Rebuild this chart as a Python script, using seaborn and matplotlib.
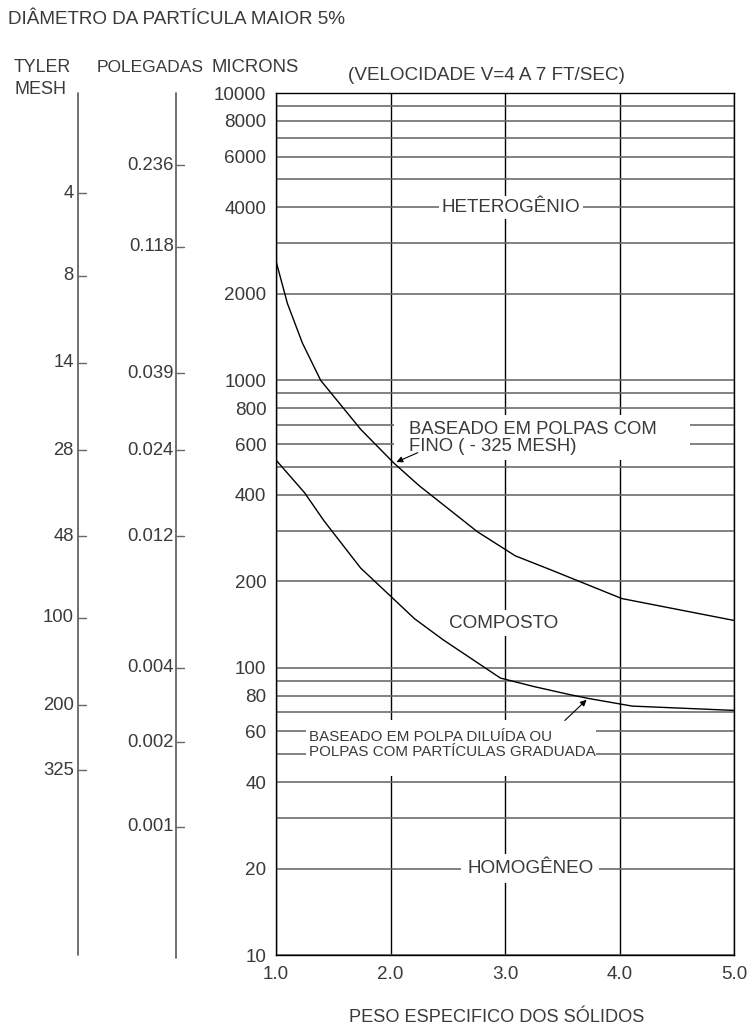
import matplotlib
matplotlib.use("Agg")
import matplotlib.pyplot as plt
from matplotlib.patches import Rectangle
import numpy as np
import pandas as pd
import seaborn as sns

# ---------------- data ----------------
# curve: BASEADO EM POLPAS COM FINO (-325 MESH)
sg_fino = [1.0, 1.10, 1.23, 1.39, 1.74, 2.03, 2.25, 2.76, 3.09, 3.40, 4.02, 5.0]
um_fino = [2600, 1850, 1350, 1000, 675, 515, 430, 297, 245, 219, 174, 146]
# curve: BASEADO EM POLPA DILUIDA OU POLPAS COM PARTICULAS GRADUADA
sg_dil = [1.0, 1.25, 1.42, 1.74, 1.99, 2.21, 2.46, 2.96, 3.25, 3.57, 3.74, 4.11, 5.0]
um_dil = [528, 406, 324, 222, 179, 148, 125, 92, 86, 80.5, 78, 73.5, 71]

x_ticks = [1.0, 2.0, 3.0, 4.0, 5.0]
x_ticklabels = ["1.0", "2.0", "3.0", "4.0", "5.0"]
y_labeled = [10, 20, 40, 60, 80, 100, 200, 400, 600, 800,
             1000, 2000, 4000, 6000, 8000, 10000]
y_gridlines = [10, 20, 30, 40, 50, 60, 70, 80, 90,
               100, 200, 300, 400, 500, 600, 700, 800, 900,
               1000, 2000, 3000, 4000, 5000, 6000, 7000, 8000, 9000, 10000]

mesh_labels = ["4", "8", "14", "28", "48", "100", "200", "325"]
mesh_microns = [4480, 2310, 1150, 570, 287, 149, 74, 44]
inch_labels = ["0.236", "0.118", "0.039", "0.024", "0.012", "0.004", "0.002", "0.001"]
inch_microns = [5600, 2920, 1060, 570, 287, 100, 55, 28]

# ---------------- style ----------------
sns.set_style("white")
plt.rcParams["font.family"] = ["Liberation Sans", "DejaVu Sans"]
TXT = "#3a3a3a"
FS = 13.6
GRID_GRAY = "#666666"

W, H = 747, 1028
fig = plt.figure(figsize=(W / 100, H / 100), dpi=100)
L, R, T, B = 276, 734, 93, 955
ax = fig.add_axes([L / W, 1 - B / H, (R - L) / W, (B - T) / H])

df_fino = pd.DataFrame({"sg": sg_fino, "um": um_fino})
df_dil = pd.DataFrame({"sg": sg_dil, "um": um_dil})
sns.lineplot(data=df_fino, x="sg", y="um", ax=ax, color="black", lw=1.0,
             sort=False, zorder=2)
sns.lineplot(data=df_dil, x="sg", y="um", ax=ax, color="black", lw=1.0,
             sort=False, zorder=2)

ax.set_yscale("log")
ax.set_xlim(1.0, 5.0)
ax.set_ylim(10, 10000)
ax.set_xticks(x_ticks)
ax.set_xticklabels(x_ticklabels)
ax.set_yticks(y_labeled)
ax.set_yticklabels([str(v) for v in y_labeled])
ax.set_yticks([v for v in y_gridlines if v not in y_labeled], minor=True)
ax.tick_params(axis="y", which="minor", length=0, labelleft=False)
ax.tick_params(axis="y", which="major", length=2, width=0.8, color=GRID_GRAY,
               pad=5, labelsize=FS, labelcolor=TXT)
ax.tick_params(axis="x", which="major", length=0, pad=8, labelsize=FS,
               labelcolor=TXT)
ax.set_xlabel("")
ax.set_ylabel("")

ax.set_axisbelow(True)
ax.grid(True, axis="y", which="both", color=GRID_GRAY, lw=1.15, zorder=0.5)
ax.grid(True, axis="x", which="major", color="black", lw=1.0, zorder=0.5)
for s in ax.spines.values():
    s.set_color("black")
    s.set_linewidth(1.0)

# ---------------- region labels ----------------
box = dict(boxstyle="square,pad=0.15", fc="white", ec="none")
ax.text(3.05, 4000, "HETEROGÊNIO", ha="center", va="center", fontsize=FS,
        color=TXT, bbox=box, zorder=4)
ax.text(2.99, 143, "COMPOSTO", ha="center", va="center", fontsize=FS,
        color=TXT, bbox=dict(boxstyle="square,pad=0.25", fc="white", ec="none"),
        zorder=4)
ax.text(3.22, 20, "HOMOGÊNEO", ha="center", va="center", fontsize=FS,
        color=TXT, bbox=dict(boxstyle="square,pad=0.3", fc="white", ec="none"),
        zorder=4)

ax.add_patch(Rectangle((2.03, 528), 4.62 - 2.03, 757 - 528, fc="white",
                       ec="none", zorder=3))
ax.text(2.16, 630, "BASEADO EM POLPAS COM\nFINO ( - 325 MESH)", ha="left",
        va="center", fontsize=13.3, color=TXT, linespacing=0.95, zorder=4)
ax.annotate("", xy=(2.03, 515), xytext=(2.26, 565),
            arrowprops=dict(arrowstyle="-|>", color="black", lw=0.8,
                            mutation_scale=9), zorder=5)

ax.add_patch(Rectangle((1.262, 42.0), 3.795 - 1.262, 65.5 - 42.0, fc="white",
                       ec="none", zorder=3))
ax.text(1.29, 54, "BASEADO EM POLPA DILUÍDA OU\nPOLPAS COM PARTÍCULAS GRADUADA",
        ha="left", va="center", fontsize=10.9, color=TXT, linespacing=1.15,
        zorder=4)
ax.annotate("", xy=(3.73, 78.5), xytext=(3.505, 64.5),
            arrowprops=dict(arrowstyle="-|>", color="black", lw=0.8,
                            mutation_scale=9), zorder=5)

# ---------------- left auxiliary scales ----------------
tr = ax.get_yaxis_transform()
x_mesh = (78 - L) / (R - L)
x_inch = (176 - L) / (R - L)
tick_len = 8 / (R - L)
scale_col = "#666666"
ax.plot([x_mesh, x_mesh], [10, 10000], transform=tr, color=scale_col, lw=1.3,
        clip_on=False)
ax.plot([x_inch, x_inch], [9.8, 10000], transform=tr, color=scale_col, lw=1.3,
        clip_on=False)
for lab, v in zip(mesh_labels, mesh_microns):
    ax.plot([x_mesh, x_mesh + tick_len], [v, v], transform=tr, color=scale_col,
            lw=1.0, clip_on=False)
    ax.text(x_mesh - 4 / (R - L), v, lab, transform=tr, ha="right",
            va="center", fontsize=13.3, color=TXT, clip_on=False)
for lab, v in zip(inch_labels, inch_microns):
    ax.plot([x_inch, x_inch + tick_len], [v, v], transform=tr, color=scale_col,
            lw=1.0, clip_on=False)
    ax.text(x_inch - 2 / (R - L), v, lab, transform=tr, ha="right",
            va="center", fontsize=13.3, color=TXT, clip_on=False)

# ---------------- headings ----------------
fig.text(8 / W, 1 - 20 / H, "DIÂMETRO DA PARTÍCULA MAIOR 5%", ha="left",
         va="center", fontsize=FS, color=TXT)
fig.text(14 / W, 1 - 67 / H, "TYLER", ha="left", va="center", fontsize=12.8,
         color=TXT)
fig.text(14 / W, 1 - 89 / H, "MESH", ha="left", va="center", fontsize=13,
         color=TXT)
fig.text(97 / W, 1 - 67 / H, "POLEGADAS", ha="left", va="center",
         fontsize=12.5, color=TXT)
fig.text(212 / W, 1 - 67 / H, "MICRONS", ha="left", va="center", fontsize=13.3,
         color=TXT)
fig.text(348 / W, 1 - 75 / H, "(VELOCIDADE V=4 A 7 FT/SEC)", ha="left",
         va="center", fontsize=FS, color=TXT)
fig.text(497 / W, 1 - 1018 / H, "PESO ESPECIFICO DOS SÓLIDOS", ha="center",
         va="center", fontsize=13.1, color=TXT)

fig.savefig("out.png", dpi=100, facecolor="white")
